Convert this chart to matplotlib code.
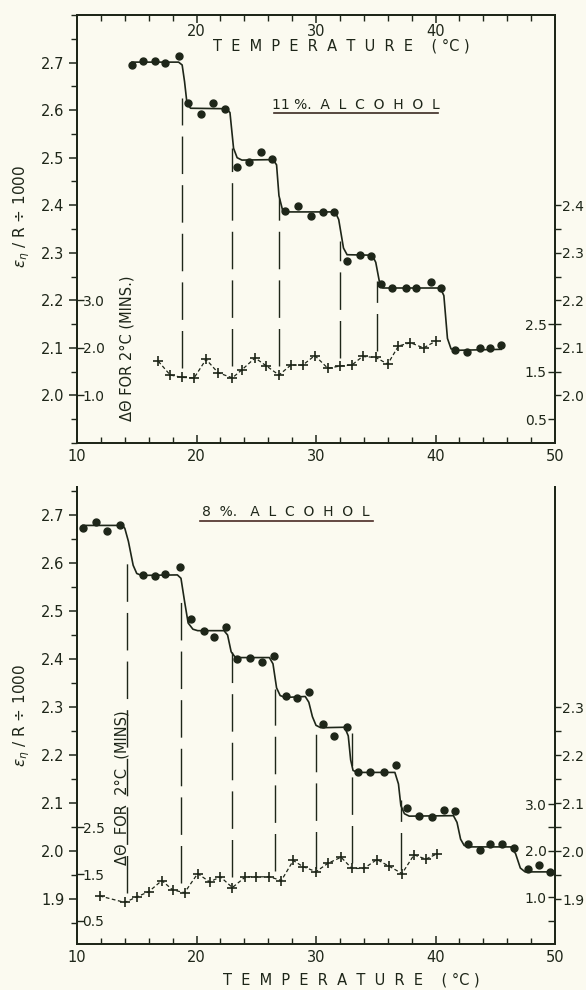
import numpy as np
import matplotlib.pyplot as plt
from matplotlib.ticker import MultipleLocator, FixedLocator

INK = '#1e2619'
BG = '#fbfaf0'
plt.rcParams['font.family'] = ['DejaVu Sans']
plt.rcParams.update({'font.size': 10, 'text.color': INK, 'axes.edgecolor': INK,
                     'xtick.color': INK, 'ytick.color': INK, 'axes.labelcolor': INK,
                     'axes.linewidth': 1.3})

## 11 % alcohol (upper panel)
top_dot_t = [14.6, 15.5, 16.5, 17.4, 18.5, 19.3, 20.4, 21.4, 22.4, 23.4, 24.4, 25.4, 26.3,
             27.4, 28.5, 29.6, 30.6, 31.5, 32.6, 33.7, 34.6, 35.4, 36.4, 37.5, 38.4, 39.6,
             40.5, 41.6, 42.6, 43.7, 44.6, 45.5]
top_dot_e = [2.695, 2.703, 2.703, 2.700, 2.714, 2.614, 2.591, 2.616, 2.603, 2.480, 2.490,
             2.512, 2.498, 2.388, 2.398, 2.377, 2.385, 2.385, 2.282, 2.295, 2.294, 2.234,
             2.225, 2.227, 2.225, 2.239, 2.227, 2.096, 2.092, 2.099, 2.099, 2.107]
top_fit_t = [14.6, 18.5, 18.8, 19.0, 19.2, 19.5, 22.5, 22.8, 23.1, 23.4, 23.8, 26.4, 26.7,
             26.9, 27.2, 27.5, 31.6, 31.9, 32.3, 32.6, 34.7, 35.0, 35.3, 35.6, 40.4, 40.7,
             41.0, 41.3, 41.8, 45.5]
top_fit_e = [2.701, 2.701, 2.695, 2.66, 2.615, 2.604, 2.603, 2.595, 2.52, 2.50, 2.495,
             2.496, 2.485, 2.42, 2.39, 2.386, 2.386, 2.37, 2.31, 2.296, 2.295, 2.28, 2.24,
             2.226, 2.226, 2.21, 2.12, 2.098, 2.095, 2.097]
top_cross_t = [16.8, 17.8, 18.8, 19.8, 20.8, 21.8, 23.0, 23.8, 24.9, 25.8, 26.9, 27.9, 28.9,
               29.9, 31.0, 32.0, 33.0, 33.9, 35.0, 36.0, 36.9, 37.9, 39.0, 40.0]
top_cross_d = [1.72, 1.43, 1.38, 1.37, 1.76, 1.48, 1.37, 1.54, 1.79, 1.63, 1.43, 1.64, 1.64,
               1.84, 1.57, 1.62, 1.64, 1.82, 1.80, 1.66, 2.04, 2.11, 2.00, 2.14]
top_vl_t = [18.8, 23.0, 26.9, 32.0, 35.1]
top_vl_hi = [2.625, 2.52, 2.415, 2.325, 2.24]
top_vl_lo = [2.057, 2.063, 2.063, 2.079, 2.093]

## 8 % alcohol (lower panel)
bot_dot_t = [10.5, 11.6, 12.5, 13.6, 15.5, 16.5, 17.4, 18.6, 19.5, 20.6, 21.5, 22.5, 23.4,
             24.5, 25.5, 26.5, 27.5, 28.4, 29.4, 30.6, 31.5, 32.6, 33.55, 34.5, 35.7, 36.7,
             37.6, 38.6, 39.7, 40.7, 41.6, 42.7, 43.7, 44.6, 45.6, 46.6, 47.7, 48.7, 49.6]
bot_dot_e = [2.672, 2.685, 2.667, 2.679, 2.574, 2.572, 2.577, 2.592, 2.483, 2.459, 2.445,
             2.466, 2.400, 2.403, 2.393, 2.407, 2.323, 2.318, 2.331, 2.265, 2.239, 2.258,
             2.164, 2.164, 2.165, 2.180, 2.090, 2.074, 2.071, 2.086, 2.084, 2.016, 2.003,
             2.016, 2.016, 2.007, 1.964, 1.971, 1.957]
bot_fit_t = [10.5, 13.8, 14.0, 14.3, 14.7, 15.0, 15.4, 18.4, 18.7, 19.0, 19.3, 19.7, 20.1,
             22.3, 22.6, 22.9, 23.2, 23.5, 26.1, 26.4, 26.7, 27.0, 27.4, 29.1, 29.4, 29.7,
             30.0, 30.4, 32.4, 32.7, 32.9, 33.1, 33.5, 36.6, 36.9, 37.1, 37.4, 37.8, 41.5,
             41.8, 42.1, 42.4, 42.8, 46.3, 46.7, 47.1, 47.5, 49.6]
bot_fit_e = [2.678, 2.678, 2.672, 2.645, 2.595, 2.578, 2.574, 2.575, 2.568, 2.52, 2.475,
             2.462, 2.459, 2.459, 2.45, 2.415, 2.405, 2.403, 2.403, 2.39, 2.34, 2.324, 2.32,
             2.322, 2.31, 2.28, 2.262, 2.257, 2.258, 2.24, 2.19, 2.168, 2.164, 2.164, 2.14,
             2.095, 2.078, 2.073, 2.074, 2.06, 2.025, 2.012, 2.009, 2.009, 1.995, 1.965,
             1.957, 1.957]
bot_cross_t = [11.9, 14.0, 15.0, 16.0, 17.1, 18.0, 19.0, 20.1, 21.1, 22.0, 23.0, 24.1, 25.0,
               26.1, 27.1, 28.1, 28.9, 30.0, 31.0, 32.1, 33.0, 34.0, 35.1, 36.1, 37.2, 38.2,
               39.2, 40.1]
bot_cross_d = [1.03, 0.89, 1.01, 1.12, 1.36, 1.16, 1.10, 1.51, 1.33, 1.44, 1.21, 1.44, 1.44,
               1.44, 1.36, 1.79, 1.66, 1.55, 1.73, 1.86, 1.62, 1.62, 1.81, 1.67, 1.51, 1.91,
               1.82, 1.93]
bot_vl_t = [14.2, 18.7, 23.0, 26.6, 30.0, 33.0, 37.1]
bot_vl_hi = [2.61, 2.535, 2.414, 2.338, 2.262, 2.245, 2.107]
bot_vl_lo = [1.913, 1.933, 1.947, 1.958, 1.964, 1.975, 1.961]

x_ticks = [10, 20, 30, 40, 50]


def panel(ax, dot_t, dot_e, fit_t, fit_e, cross_t, cross_d, vl_t, vl_hi, vl_lo,
          elim, dlim, e_left, e_right, d_left, d_right, d_right_minor):
    ax.set_facecolor('none')
    ax.set_xlim(10, 50)
    ax.set_ylim(*elim)
    ax.plot(fit_t, fit_e, color=INK, lw=1.2)
    ax.plot(dot_t, dot_e, 'o', ms=5, color=INK)
    for t, hi, lo in zip(vl_t, vl_hi, vl_lo):
        ax.plot([t, t], [lo, hi], color=INK, lw=1.0, dashes=(27, 8))

    ax.xaxis.set_major_locator(FixedLocator(x_ticks))
    ax.xaxis.set_minor_locator(MultipleLocator(2))
    ax.tick_params(axis='x', which='major', direction='in', length=6, width=1.1,
                   labelsize=10.5, pad=4)
    ax.tick_params(axis='x', which='minor', direction='in', length=4, width=1.0)
    ax.yaxis.set_major_locator(FixedLocator(e_left))
    ax.yaxis.set_minor_locator(MultipleLocator(0.05))
    ax.tick_params(axis='y', which='major', direction='out', length=6, width=1.1,
                   labelsize=10.5, pad=3)
    ax.tick_params(axis='y', which='minor', direction='out', length=4, width=1.0)

    scale = (dlim[1] - dlim[0]) / (elim[1] - elim[0])
    e2d = lambda e: (e - elim[0]) * scale
    d2e = lambda d: elim[0] + d / scale

    # delta-theta scale drawn inside the left spine
    sl = ax.secondary_yaxis('left', functions=(e2d, d2e))
    sl.set_yticks(d_left)
    sl.set_yticklabels([f'{v:.1f}' for v in d_left])
    sl.tick_params(axis='y', direction='in', length=5, width=1.0, labelsize=10, pad=-4)
    for lab in sl.get_yticklabels():
        lab.set_ha('left')

    # E scale repeated outside the right spine
    sr = ax.secondary_yaxis('right')
    sr.set_yticks(e_right)
    sr.set_yticklabels([f'{v:.1f}' for v in e_right])
    sr.yaxis.set_minor_locator(FixedLocator(np.arange(e_right[0] + 0.05, e_right[-1], 0.1)))
    sr.tick_params(axis='y', which='major', direction='out', length=4, width=1.0,
                   labelsize=10, pad=1)
    sr.tick_params(axis='y', which='minor', direction='out', length=4, width=1.0)

    # delta-theta points on a twin axis, labels inside the right spine
    tw = ax.twinx()
    tw.set_ylim(*dlim)
    tw.plot(cross_t, cross_d, color=INK, lw=0.9, ls=(0, (3, 2)), marker='+', ms=7, mew=1.2)
    tw.set_yticks(d_right)
    tw.set_yticklabels([f'{v:.1f}' for v in d_right])
    tw.yaxis.set_minor_locator(FixedLocator(d_right_minor))
    tw.tick_params(axis='y', which='both', direction='in', length=5, width=1.0,
                   labelsize=10, pad=-6)
    for lab in tw.get_yticklabels():
        lab.set_ha('right')
    return tw


fig = plt.figure(figsize=(5.86, 9.9), dpi=100, facecolor=BG)
ax1 = fig.add_axes([0.1314, 0.5525, 0.8157, 0.4323])
ax2 = fig.add_axes([0.1314, 0.0465, 0.8157, 0.4616])

panel(ax1, top_dot_t, top_dot_e, top_fit_t, top_fit_e, top_cross_t, top_cross_d,
      top_vl_t, top_vl_hi, top_vl_lo, (1.9, 2.8), (0, 9.0),
      [2.0, 2.1, 2.2, 2.3, 2.4, 2.5, 2.6, 2.7], [2.0, 2.1, 2.2, 2.3, 2.4],
      [1.0, 2.0, 3.0], [0.5, 1.5, 2.5], [])

tw2 = panel(ax2, bot_dot_t, bot_dot_e, bot_fit_t, bot_fit_e, bot_cross_t, bot_cross_d,
            bot_vl_t, bot_vl_hi, bot_vl_lo, (1.807, 2.758), (0, 9.8),
            [1.9, 2.0, 2.1, 2.2, 2.3, 2.4, 2.5, 2.6, 2.7], [1.9, 2.0, 2.1, 2.2, 2.3],
            [0.5, 1.5, 2.5], [1.0, 2.0, 3.0], [0.5, 1.5, 2.5])
ax2.spines['top'].set_visible(False)
tw2.spines['top'].set_visible(False)

# upper panel: temperature scale repeated inside the top spine
ax1.tick_params(axis='x', which='both', top=True)
st = ax1.secondary_xaxis('top')
st.set_xticks([20, 30, 40])
st.tick_params(axis='x', direction='in', length=0, labelsize=10.5, pad=-17)
temp_label = 'T  E  M  P  E  R  A  T  U  R  E    ( °C )'
ax1.text(0.552, 0.928, temp_label, transform=ax1.transAxes,
         ha='center', va='center', fontsize=10.5)

ax2.set_xlabel(temp_label, fontsize=10.5)
ax2.xaxis.set_label_coords(0.573, -0.062)

for ax, yc in [(ax1, 0.53), (ax2, 0.5)]:
    ax.set_ylabel(r'$\varepsilon_{\eta}$ / R $\div$ 1000', fontsize=11)
    ax.yaxis.set_label_coords(-0.095, yc)

ax1.text(0.105, 0.222, 'ΔΘ FOR 2°C (MINS.)', transform=ax1.transAxes, rotation=90,
         ha='center', va='center', fontsize=10.5)
ax2.text(0.094, 0.341, 'ΔΘ  FOR  2°C  (MINS)', transform=ax2.transAxes, rotation=90,
         ha='center', va='center', fontsize=10.5)

# panel titles, underlined
ax1.text(0.583, 0.790, '11 %.  A  L  C  O  H  O  L', transform=ax1.transAxes,
         ha='center', va='center', fontsize=10)
ax1.plot([0.412, 0.755], [0.770, 0.770], transform=ax1.transAxes, color='#3a2a22', lw=1.2,
         clip_on=False)
ax2.text(0.436, 0.945, '8  %.   A  L  C  O  H  O  L', transform=ax2.transAxes,
         ha='center', va='center', fontsize=10)
ax2.plot([0.257, 0.619], [0.925, 0.925], transform=ax2.transAxes, color='#4a2a24', lw=1.2,
         clip_on=False)

plt.savefig('out.png', dpi=100, facecolor=BG)
